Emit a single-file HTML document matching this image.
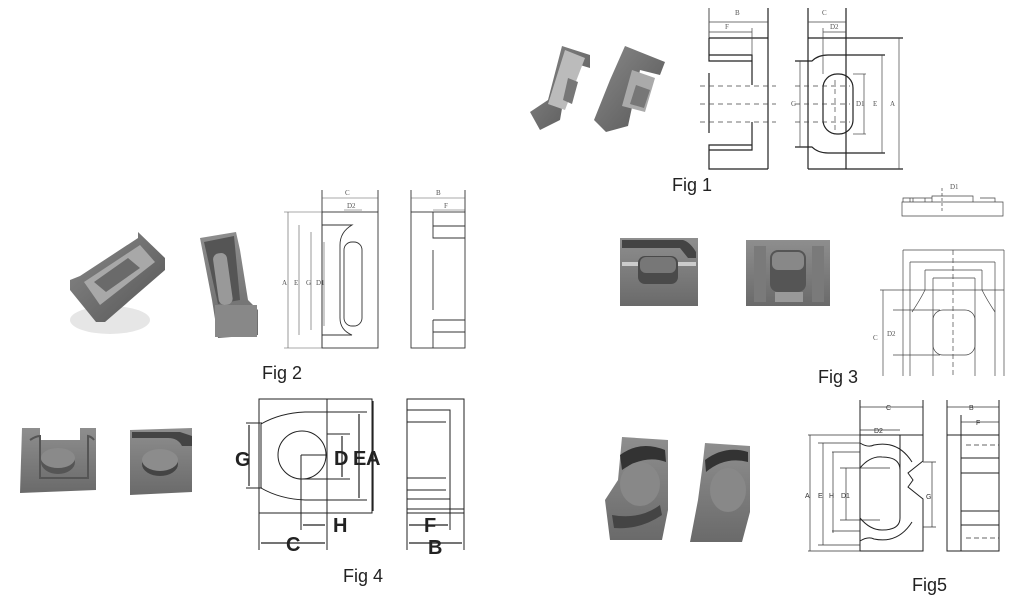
<!DOCTYPE html>
<html><head><meta charset="utf-8"><style>
html,body{margin:0;padding:0;background:#fff;}
svg{display:block}
text{font-family:"Liberation Sans",sans-serif;}
.t{font-family:"Liberation Serif",serif;font-size:7px;fill:#555}
</style></head><body>
<svg width="1036" height="616" viewBox="0 0 1036 616" xmlns="http://www.w3.org/2000/svg">
<defs>
<linearGradient id="g1" x1="0" y1="0" x2="1" y2="1"><stop offset="0" stop-color="#8a8a8a"/><stop offset="1" stop-color="#555"/></linearGradient>
<linearGradient id="g2" x1="0" y1="0" x2="0" y2="1"><stop offset="0" stop-color="#8e8e8e"/><stop offset="1" stop-color="#6a6a6a"/></linearGradient>
</defs>
<rect width="1036" height="616" fill="#fff"/>

<!-- ===== FIG 1 photos ===== -->
<g>
<polygon points="562,46 590,55 590,68 570,62 560,120 540,130 530,112 548,100" fill="url(#g1)"/>
<polygon points="565,50 585,58 565,110 548,104" fill="#bbb"/>
<polygon points="568,78 578,82 572,104 563,100" fill="#777"/>
<polygon points="625,46 665,62 660,75 640,70 628,126 606,132 594,120 610,80" fill="url(#g1)"/>
<polygon points="632,70 655,78 645,112 622,106" fill="#aaa"/>
<polygon points="636,85 650,90 644,108 630,104" fill="#777"/>
</g>
<!-- FIG 1 drawing -->
<g fill="none" stroke="#222" stroke-width="1.2">
<line x1="709" y1="8" x2="709" y2="38" stroke-width="0.8"/>
<line x1="768" y1="8" x2="768" y2="169" />
<path d="M709,38 H768 M709,38 V61 H752 V55 H709 M752,55 V85 M709,73 V133 M752,122 V150 H709 V145 H752 M709,145 V169 H768"/>
<line x1="808" y1="8" x2="808" y2="169"/>
<line x1="846" y1="8" x2="846" y2="169"/>
<path d="M808,38 H903 M808,169 H903 M828,55 H885 M828,153 H885 M795,61 H812 Q818,55 828,55 M795,147 H812 Q818,153 828,153"/>
<rect x="823" y="74" width="30" height="60" rx="14"/>
</g>
<g stroke="#444" stroke-width="0.7" fill="none">
<line x1="709" y1="22" x2="768" y2="22"/><line x1="709" y1="32" x2="752" y2="32"/>
<line x1="752" y1="28" x2="752" y2="55"/>
<line x1="808" y1="22" x2="846" y2="22"/><line x1="823" y1="32" x2="846" y2="32"/>
<line x1="823" y1="28" x2="823" y2="74"/>
<line x1="800" y1="61" x2="800" y2="147"/><line x1="864" y1="74" x2="864" y2="134"/>
<line x1="882" y1="55" x2="882" y2="153"/><line x1="899" y1="38" x2="899" y2="169"/>
<line x1="853" y1="74" x2="866" y2="74"/><line x1="853" y1="134" x2="866" y2="134"/>
<path d="M700,86 H776 M700,104 H776 M700,122 H776 M795,86 H850 M795,104 H850 M795,122 H850 M835,80 V130" stroke-dasharray="5,4"/>
</g>
<text class="t" x="735" y="15">B</text><text class="t" x="725" y="29">F</text>
<text class="t" x="822" y="15">C</text><text class="t" x="830" y="29">D2</text>
<text class="t" x="791" y="106">G</text><text class="t" x="856" y="106">D1</text>
<text class="t" x="873" y="106">E</text><text class="t" x="890" y="106">A</text>
<text x="672" y="191" font-size="18" fill="#222">Fig 1</text>

<!-- ===== FIG 2 photos ===== -->
<g>
<ellipse cx="110" cy="320" rx="40" ry="14" fill="#e6e6e6"/>
<polygon points="138,232 165,258 165,270 105,322 96,322 70,290 70,280 80,276 138,238" fill="url(#g1)"/>
<polygon points="84,282 140,245 155,262 100,305" fill="#a8a8a8"/>
<polygon points="94,282 128,258 140,268 106,292" fill="#6a6a6a"/>
<polygon points="200,238 236,232 240,250 248,300 258,310 258,335 218,338 212,300" fill="url(#g2)"/>
<polygon points="204,242 234,236 240,300 218,304" fill="#555"/>
<rect x="216" y="253" width="14" height="52" rx="6" fill="#999" transform="rotate(-8 223 280)"/>
<rect x="215" y="305" width="42" height="32" fill="#888"/>
</g>
<!-- FIG 2 drawing -->
<g fill="none" stroke="#333" stroke-width="0.9">
<rect x="322" y="212" width="56" height="136"/>
<path d="M322,225 H352 Q340,232 340,245 V318 Q340,330 352,335 H322"/>
<rect x="344" y="242" width="18" height="84" rx="8"/>
<line x1="322" y1="190" x2="322" y2="348"/><line x1="378" y1="190" x2="378" y2="212"/>
<rect x="411" y="212" width="54" height="136"/>
<path d="M433,212 V238 H465 M433,226 H465 M433,320 H465 M433,332 H465 M433,320 V348 M433,250 V310"/>
<line x1="411" y1="190" x2="411" y2="212"/><line x1="465" y1="190" x2="465" y2="212"/>
</g>
<g stroke="#555" stroke-width="0.6" fill="none">
<line x1="322" y1="198" x2="378" y2="198"/><line x1="344" y1="210" x2="362" y2="210"/>
<line x1="411" y1="198" x2="465" y2="198"/><line x1="433" y1="210" x2="465" y2="210"/>
<line x1="284" y1="212" x2="322" y2="212"/><line x1="284" y1="348" x2="322" y2="348"/>
<line x1="288" y1="212" x2="288" y2="348"/><line x1="299" y1="225" x2="299" y2="335"/>
<line x1="311" y1="232" x2="311" y2="330"/><line x1="324" y1="242" x2="324" y2="326"/>
</g>
<text class="t" x="345" y="195">C</text><text class="t" x="347" y="208">D2</text>
<text class="t" x="436" y="195">B</text><text class="t" x="444" y="208">F</text>
<text class="t" x="282" y="285">A</text><text class="t" x="294" y="285">E</text>
<text class="t" x="306" y="285">G</text><text class="t" x="316" y="285">D1</text>
<text x="262" y="379" font-size="18" fill="#222">Fig 2</text>

<!-- ===== FIG 3 photos ===== -->
<g>
<rect x="620" y="238" width="78" height="68" fill="url(#g2)"/>
<path d="M622,240 H683 Q690,242 696,252 V258 H688 L680,248 H622 Z" fill="#444"/>
<rect x="622" y="262" width="74" height="4" fill="#ccc"/>
<rect x="638" y="256" width="40" height="28" rx="7" fill="#4a4a4a"/>
<rect x="640" y="257" width="36" height="16" rx="6" fill="#777"/>
<rect x="746" y="240" width="84" height="66" fill="url(#g2)"/>
<rect x="754" y="246" width="12" height="56" fill="#7a7a7a"/>
<rect x="812" y="246" width="12" height="56" fill="#7a7a7a"/>
<rect x="770" y="250" width="36" height="42" rx="8" fill="#555"/>
<rect x="772" y="252" width="32" height="18" rx="6" fill="#888"/>
<rect x="775" y="292" width="28" height="10" fill="#999"/>
</g>
<!-- FIG 3 drawing -->
<g fill="none" stroke="#444" stroke-width="0.7">
<path d="M902,202 H1003 V216 H902 Z M903,202 V198 H932 V202 M932,202 V196 H973 V202 M980,198 H995 V202 M910,198 V202 M913,202 V198 H925 V202"/>
<line x1="942" y1="188" x2="942" y2="212" stroke-dasharray="3,2"/>
<line x1="903" y1="250" x2="1004" y2="250"/>
<line x1="903" y1="250" x2="903" y2="376"/><line x1="1004" y1="250" x2="1004" y2="376"/>
<line x1="910" y1="262" x2="995" y2="262"/>
<line x1="910" y1="262" x2="910" y2="376"/><line x1="995" y1="262" x2="995" y2="376"/>
<line x1="925" y1="270" x2="982" y2="270"/>
<line x1="933" y1="278" x2="975" y2="278"/><line x1="933" y1="278" x2="933" y2="376"/><line x1="975" y1="278" x2="975" y2="376"/>
<line x1="880" y1="290" x2="1004" y2="290"/>
<path d="M925,270 V290 Q920,300 912,312 M982,270 V290 Q987,300 995,312"/>
<rect x="933" y="310" width="42" height="45" rx="10"/>
<line x1="893" y1="310" x2="940" y2="310"/><line x1="893" y1="355" x2="940" y2="355"/>
<line x1="883" y1="290" x2="883" y2="376"/>
<line x1="953" y1="250" x2="953" y2="376" stroke-dasharray="5,3"/>
</g>
<text class="t" x="950" y="189" font-size="5">D1</text>
<text class="t" x="873" y="340">C</text><text class="t" x="887" y="336">D2</text>
<text x="818" y="383" font-size="18" fill="#222">Fig 3</text>

<!-- ===== FIG 4 photos ===== -->
<g>
<polygon points="22,428 40,428 40,440 80,440 80,428 96,428 96,490 20,493" fill="url(#g2)"/>
<path d="M30,440 Q36,436 40,436 V478 H88 V436 Q92,437 94,440" fill="none" stroke="#555" stroke-width="2"/>
<ellipse cx="58" cy="462" rx="17" ry="12" fill="#555"/>
<ellipse cx="58" cy="458" rx="17" ry="10" fill="#8a8a8a"/>
<polygon points="130,430 192,428 192,492 130,495" fill="url(#g2)"/>
<path d="M132,438 H168 Q178,438 182,446 L192,446 V436 L180,432 H132 Z" fill="#444"/>
<ellipse cx="160" cy="464" rx="18" ry="12" fill="#444"/>
<ellipse cx="160" cy="460" rx="18" ry="11" fill="#8c8c8c"/>
</g>
<!-- FIG 4 drawing -->
<g fill="none" stroke="#222" stroke-width="1">
<rect x="259" y="399" width="113" height="114"/>
<line x1="327" y1="399" x2="327" y2="513"/>
<path d="M261,424 Q280,413 305,412 H367 M261,488 Q280,499 305,500 H367 M261,424 V488"/>
<circle cx="302" cy="455" r="24"/>
<path d="M301,455 H327 M301,479 H350 M327,434 H350 M301,455 V530"/>
<rect x="407" y="399" width="57" height="114"/>
<path d="M407,410 H450 V499 H407 M407,422 H446 M407,433 V478 H446 M407,490 H446 M407,509 H464"/>
<line x1="259" y1="513" x2="259" y2="550"/><line x1="327" y1="513" x2="327" y2="550"/>
<line x1="407" y1="513" x2="407" y2="550"/><line x1="464" y1="513" x2="464" y2="550"/><line x1="450" y1="499" x2="450" y2="530"/>
<path d="M246,423 H262 M246,488 H262"/>
</g>
<g stroke="#222" stroke-width="1.2">
<line x1="249" y1="425" x2="249" y2="486"/><line x1="342" y1="436" x2="342" y2="477"/>
<line x1="359" y1="414" x2="359" y2="498"/><line x1="373" y1="401" x2="373" y2="511"/>
<line x1="261" y1="543" x2="325" y2="543"/><line x1="409" y1="543" x2="462" y2="543"/>
<line x1="409" y1="525" x2="448" y2="525"/><line x1="303" y1="525" x2="325" y2="525"/>
</g>
<g font-weight="bold" font-size="20" fill="#222">
<text x="235" y="466">G</text><text x="334" y="465">D</text><text x="353" y="465">E</text><text x="366" y="465">A</text>
<text x="286" y="551">C</text><text x="333" y="532">H</text><text x="424" y="532">F</text><text x="428" y="554">B</text>
</g>
<text x="343" y="582" font-size="18" fill="#222">Fig 4</text>

<!-- ===== FIG 5 photos ===== -->
<g>
<polygon points="622,437 668,440 668,510 662,540 610,540 605,500 618,480" fill="url(#g2)"/>
<path d="M620,455 Q640,440 665,450 L666,462 Q645,454 622,470 Z" fill="#333"/>
<path d="M612,515 Q640,520 660,505 L662,515 Q640,530 614,528 Z" fill="#444"/>
<ellipse cx="640" cy="484" rx="20" ry="22" fill="#888"/>
<polygon points="705,443 750,446 750,512 742,542 690,542 698,500 702,470" fill="url(#g2)"/>
<path d="M705,460 Q725,445 748,452 L748,462 Q725,456 706,472 Z" fill="#333"/>
<ellipse cx="728" cy="490" rx="18" ry="22" fill="#888"/>
</g>
<!-- FIG 5 drawing -->
<g fill="none" stroke="#222" stroke-width="1">
<path d="M860,435 H923 V461 L908,473 L913,480 L908,487 L923,499 V551 H860 Z"/>
<line x1="860" y1="400" x2="860" y2="435"/><line x1="923" y1="400" x2="923" y2="435"/>
<path d="M860,443 Q868,448 874,445 Q898,440 912,462 M860,541 Q868,536 874,539 Q898,544 912,522"/>
<path d="M860,468 Q870,456 882,457 Q900,457 900,470 V518 Q900,530 882,530 Q870,530 860,518"/>
<line x1="900" y1="435" x2="900" y2="470"/>
<rect x="947" y="435" width="52" height="116"/>
<path d="M961,435 V551 M961,458 H999 M961,473 H999 V511 H961 M961,525 H999"/>
<line x1="947" y1="400" x2="947" y2="435"/><line x1="999" y1="400" x2="999" y2="435"/><line x1="961" y1="415" x2="961" y2="435"/>
</g>
<g stroke="#333" stroke-width="0.7" fill="none">
<path d="M808,435 H860 M818,443 H860 M832,452 H860 M840,468 H890 M832,531 H860 M808,551 H860 M818,545 H860 M840,520 H880 M923,462 H936 M923,527 H936"/>
<path d="M810,435 V551 M823,443 V545 M833,452 V533 M846,468 V520 M932,462 V527"/>
<path d="M860,407 H923 M860,430 H900 M947,407 H999 M961,422 H999"/>
<path d="M966,445 H999 M966,538 H999" stroke-dasharray="5,3"/>
</g>
<g class="t" font-size="10" style="font-family:'Liberation Serif',serif;fill:#333">
<text x="886" y="410">C</text><text x="874" y="433">D2</text><text x="969" y="410">B</text><text x="976" y="425">F</text>
<text x="805" y="498">A</text><text x="818" y="498">E</text><text x="829" y="498">H</text><text x="841" y="498">D1</text><text x="926" y="499">G</text>
</g>
<text x="912" y="591" font-size="18" fill="#222">Fig5</text>
</svg>
</body></html>
